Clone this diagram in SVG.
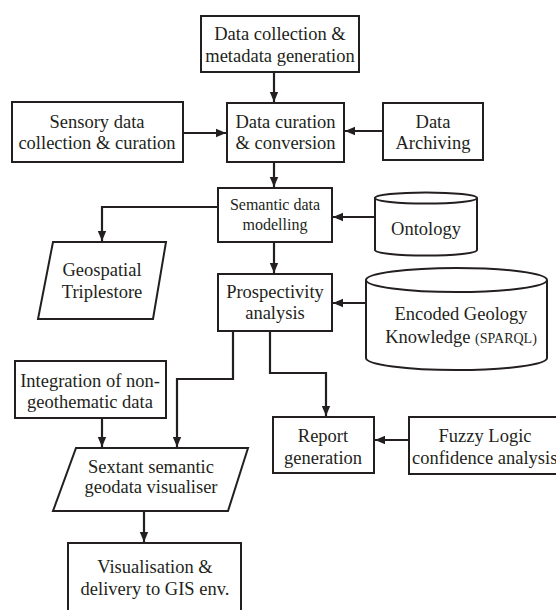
<svg xmlns="http://www.w3.org/2000/svg" width="556" height="610" viewBox="0 0 556 610">
<style>
.b{fill:#fff;stroke:#231f20;stroke-width:2}
.c{fill:none;stroke:#231f20;stroke-width:2.2}
text{font-family:"Liberation Serif","Times New Roman",serif;font-size:18.5px;fill:#231f20;text-anchor:middle}
.s{font-size:16px}
.sm{font-size:14px}
</style>
<defs>
<marker id="ah" markerWidth="10" markerHeight="10" viewBox="0 0 10 10" refX="10" refY="5" orient="auto" markerUnits="userSpaceOnUse">
<path d="M0,0.8 L10,5 L0,9.2 Z" fill="#231f20"/>
</marker>
</defs>
<rect width="556" height="610" fill="#fff"/>
<g id="connectors">
<path class="c" d="M274,72 V102" marker-end="url(#ah)"/>
<path class="c" d="M183,133 H226" marker-end="url(#ah)"/>
<path class="c" d="M383,131 H345" marker-end="url(#ah)"/>
<path class="c" d="M274,162 V187" marker-end="url(#ah)"/>
<path class="c" d="M218,207 H102 V241" marker-end="url(#ah)"/>
<path class="c" d="M375,217 H333" marker-end="url(#ah)"/>
<path class="c" d="M274,242 V273" marker-end="url(#ah)"/>
<path class="c" d="M366,303 H333" marker-end="url(#ah)"/>
<path class="c" d="M233,331 V379 H177 V447" marker-end="url(#ah)"/>
<path class="c" d="M270,331 V373 H326 V416" marker-end="url(#ah)"/>
<path class="c" d="M102,418 V447" marker-end="url(#ah)"/>
<path class="c" d="M409,440 H375" marker-end="url(#ah)"/>
<path class="c" d="M144,511 V542" marker-end="url(#ah)"/>
</g>
<g id="data-collection">
<rect class="b" x="201" y="16" width="158" height="56"/>
<text x="280" y="40">Data collection &amp;</text>
<text x="280" y="62">metadata generation</text>
</g>
<g id="sensory">
<rect class="b" x="12" y="102" width="171" height="60"/>
<text x="97" y="128">Sensory data</text>
<text x="97" y="149">collection &amp; curation</text>
</g>
<g id="curation">
<rect class="b" x="227" y="103" width="117" height="59"/>
<text x="285.5" y="128">Data curation</text>
<text x="285.5" y="149">&amp; conversion</text>
</g>
<g id="archiving">
<rect class="b" x="383" y="103" width="100" height="57"/>
<text x="433" y="128">Data</text>
<text x="433" y="149">Archiving</text>
</g>
<g id="semantic">
<rect class="b" x="218" y="188" width="114" height="54"/>
<text class="s" x="275" y="210">Semantic data</text>
<text class="s" x="275" y="230">modelling</text>
</g>
<g id="ontology">
<path class="b" d="M375,198 V250 A51,5.5 0 0 0 477,250 V198"/>
<ellipse class="b" cx="426" cy="198" rx="51" ry="5.5"/>
<text x="426" y="235">Ontology</text>
</g>
<g id="geospatial">
<polygon class="b" points="53,242 166,242 153,319 38,319"/>
<text x="102" y="276">Geospatial</text>
<text x="102" y="298">Triplestore</text>
</g>
<g id="prospectivity">
<rect class="b" x="218" y="274" width="114" height="57"/>
<text x="275" y="298">Prospectivity</text>
<text x="275" y="319">analysis</text>
</g>
<g id="geology">
<path class="b" d="M366,280 V358 A90.5,12 0 0 0 547,358 V280"/>
<ellipse class="b" cx="456.5" cy="280" rx="90.5" ry="12"/>
<text x="461" y="320">Encoded Geology</text>
<text x="461" y="343">Knowledge <tspan class="sm">(SPARQL)</tspan></text>
</g>
<g id="integration">
<rect class="b" x="15" y="361" width="151" height="57"/>
<text x="90" y="387">Integration of non-</text>
<text x="90" y="408">geothematic data</text>
</g>
<g id="report">
<rect class="b" x="273" y="417" width="101" height="56"/>
<text x="323" y="442">Report</text>
<text x="323" y="464">generation</text>
</g>
<g id="fuzzy">
<rect class="b" x="409" y="417" width="170" height="57"/>
<text x="485" y="442">Fuzzy Logic</text>
<text x="412" y="464" style="text-anchor:start">confidence analysis</text>
</g>
<g id="sextant">
<polygon class="b" points="76,448 248,448 228,511 53,511"/>
<text x="151" y="473">Sextant semantic</text>
<text x="151" y="493">geodata visualiser</text>
</g>
<g id="visualisation">
<rect class="b" x="68" y="543" width="173" height="80"/>
<text x="155" y="573">Visualisation &amp;</text>
<text x="155" y="595">delivery to GIS env.</text>
</g>
</svg>
